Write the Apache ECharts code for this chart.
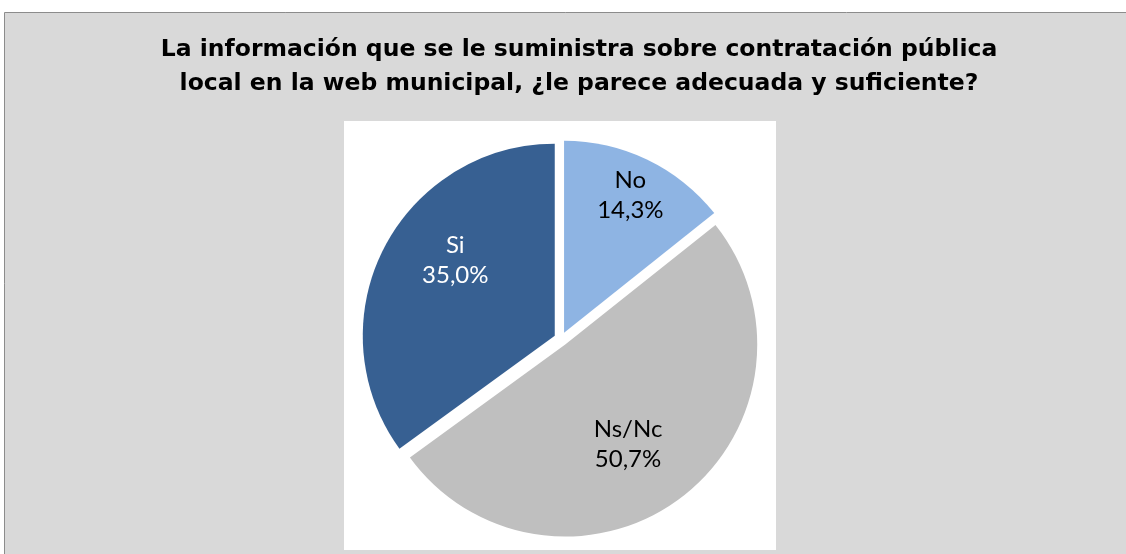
<!DOCTYPE html>
<html>
<head>
<meta charset="utf-8">
<script src="https://cdn.jsdelivr.net/npm/echarts@6/dist/echarts.min.js"></script>
<style>
  html, body { margin: 0; padding: 0; background: #fff; }
  #chart { width: 1126px; height: 554px; }
</style>
</head>
<body>
<div id="chart"></div>
<script>
// datos del grafico
var categorias = ['No', 'Ns/Nc', 'Si'];
var valores = [14.3, 50.7, 35.0];
var colores = ['#8eb4e3', '#bfbfbf', '#376092'];
var coloresEtiqueta = ['#000000', '#000000', '#ffffff'];
// posicion de la etiqueta: fraccion del radio y giro extra (grados)
var ratioEtiqueta = [0.78, 0.6, 0.634];
var giroEtiqueta = [0, 5.3, 10.3];

var titulo = 'La información que se le suministra sobre contratación pública\nlocal en la web municipal, ¿le parece adecuada y suficiente?';

var R = 192;
var centro = [561, 339];
var total = valores.reduce(function (a, b) { return a + b; }, 0);

// angulo medio de cada porcion (desde arriba, sentido horario)
var angMedio = [];
var acum = 0;
for (var i = 0; i < valores.length; i++) {
  angMedio.push((acum + valores[i] / 2) / total * Math.PI * 2);
  acum += valores[i];
}

var chart = echarts.init(document.getElementById('chart'));

var option = {
  backgroundColor: '#ffffff',
  animation: false,
  graphic: [
    {
      type: 'rect',
      shape: { x: 4.5, y: 12.5, width: 1140, height: 560 },
      style: { fill: '#d9d9d9', stroke: '#8c8c8c', lineWidth: 1 },
      z: -10
    },
    {
      type: 'rect',
      shape: { x: 344, y: 121, width: 432, height: 429 },
      style: { fill: '#ffffff' },
      z: -9
    }
  ],
  title: {
    text: titulo,
    left: 574,
    textAlign: 'center',
    top: 28,
    textStyle: {
      fontFamily: 'DejaVu Sans',
      fontWeight: 'bold',
      fontSize: 23.5,
      lineHeight: 34,
      color: '#000000'
    }
  },
  series: [{
    type: 'pie',
    center: centro,
    radius: [0, R],
    startAngle: 90,
    clockwise: true,
    selectedMode: 'multiple',
    selectedOffset: 7,
    emphasis: { disabled: true },
    label: {
      show: true,
      position: 'inside',
      fontFamily: 'Lato',
      fontSize: 24,
      lineHeight: 30,
      formatter: function (p) {
        return p.name + '\n' + p.value.toFixed(1).replace('.', ',') + '%';
      }
    },
    // mueve la etiqueta desde R/2 (posicion por defecto) hasta la deseada
    labelLayout: function (p) {
      var a = angMedio[p.dataIndex];
      var b = a + giroEtiqueta[p.dataIndex] * Math.PI / 180;
      var d = ratioEtiqueta[p.dataIndex] * R;
      return {
        dx: d * Math.sin(b) - 0.5 * R * Math.sin(a),
        dy: -d * Math.cos(b) + 0.5 * R * Math.cos(a)
      };
    },
    data: categorias.map(function (c, i) {
      return {
        name: c,
        value: valores[i],
        selected: true,
        itemStyle: { color: colores[i] },
        label: { color: coloresEtiqueta[i] }
      };
    })
  }]
};

chart.setOption(option);
</script>
</body>
</html>
